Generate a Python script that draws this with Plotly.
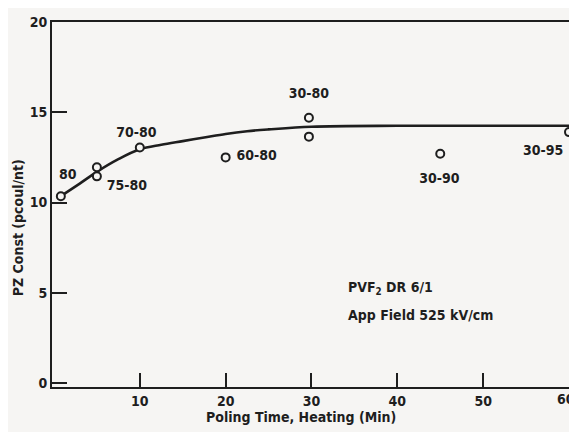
import plotly.graph_objects as go

# Data
pt_x = [0.8, 5, 5, 10, 20, 29.7, 29.7, 45, 60]
pt_y = [10.35, 11.95, 11.45, 13.05, 12.5, 14.7, 13.65, 12.7, 13.9]

curve_x = [0.8, 3, 5, 7.5, 10, 12.5, 15, 17.5, 20, 22.5, 25, 30, 40, 50, 60]
curve_y = [10.35, 11.05, 11.7, 12.4, 12.95, 13.2, 13.4, 13.6, 13.8, 13.95, 14.05, 14.2, 14.25, 14.25, 14.25]

lab_text = ["80", "75-80", "70-80", "60-80", "30-80", "30-90", "30-95"]
lab_x = [1.6, 8.5, 9.6, 23.6, 29.7, 44.9, 57.0]
lab_y = [11.5, 10.9, 13.8, 12.55, 16.0, 11.3, 12.85]

x_ticks = [10, 20, 30, 40, 50, 60]
x_ticklabels = ["10", "20", "30", "40", "50", ""]   # "60" drawn separately so it stays inside the page
x_last_label = "60"
y_ticks = [0, 5, 10, 15, 20]

ink = "#1e1e1e"
bg = "#f6f5f3"
font = dict(family="DejaVu Sans Condensed, sans-serif", size=14, color=ink, weight="bold")

fig = go.Figure()
fig.add_trace(go.Scatter(x=curve_x, y=curve_y, mode="lines", line=dict(color=ink, width=2.6, shape="spline"),
                         hoverinfo="skip", showlegend=False))
fig.add_trace(go.Scatter(x=pt_x, y=pt_y, mode="markers",
                         marker=dict(symbol="circle", size=8, color=bg, line=dict(color=ink, width=2)),
                         showlegend=False, cliponaxis=False))
fig.add_trace(go.Scatter(x=lab_x, y=lab_y, mode="text", text=lab_text, textfont=font,
                         showlegend=False, cliponaxis=False))

fig.add_annotation(x=34.0, y=5.25, xref="x", yref="y", text="PVF<sub>2</sub> DR 6/1", showarrow=False,
                   xanchor="left", yanchor="middle", font=font)
fig.add_annotation(x=34.0, y=3.78, xref="x", yref="y", text="App Field 525 kV/cm", showarrow=False,
                   xanchor="left", yanchor="middle", font=font)
fig.add_annotation(x=-0.067, y=0.436, xref="paper", yref="paper", text="PZ Const (pcoul/nt)", textangle=-90,
                   showarrow=False, xanchor="center", yanchor="middle", font=font)
fig.add_annotation(x=0.482, y=-0.082, xref="paper", yref="paper", text="Poling Time, Heating (Min)",
                   showarrow=False, xanchor="center", yanchor="middle", font=font)
fig.add_annotation(x=x_ticks[-1], y=0, xref="x", yref="paper", text=x_last_label, showarrow=False,
                   xanchor="right", yanchor="top", xshift=8, yshift=-2, font=font)

fig.update_xaxes(range=[-0.23, 60], tickvals=x_ticks, ticktext=x_ticklabels,
                 ticks="inside", ticklen=14, tickwidth=2, tickcolor=ink, automargin=False,
                 showline=True, linewidth=2, linecolor=ink, mirror=True,
                 showgrid=False, zeroline=False, tickfont=font)
fig.update_yaxes(range=[-0.22, 20], tickvals=y_ticks, ticktext=[str(v) for v in y_ticks],
                 ticks="inside", ticklen=15, tickwidth=2, tickcolor=ink, automargin=False,
                 showline=True, linewidth=2, linecolor=ink, mirror=True,
                 showgrid=False, zeroline=False, tickfont=font)

# the page body has an 8px margin, so the figure is sized and offset to compensate
fig.update_layout(width=569, height=424, margin=dict(l=44, r=8, t=14, b=45),
                  paper_bgcolor=bg, plot_bgcolor=bg, font=font)

fig.write_html("out.html")
